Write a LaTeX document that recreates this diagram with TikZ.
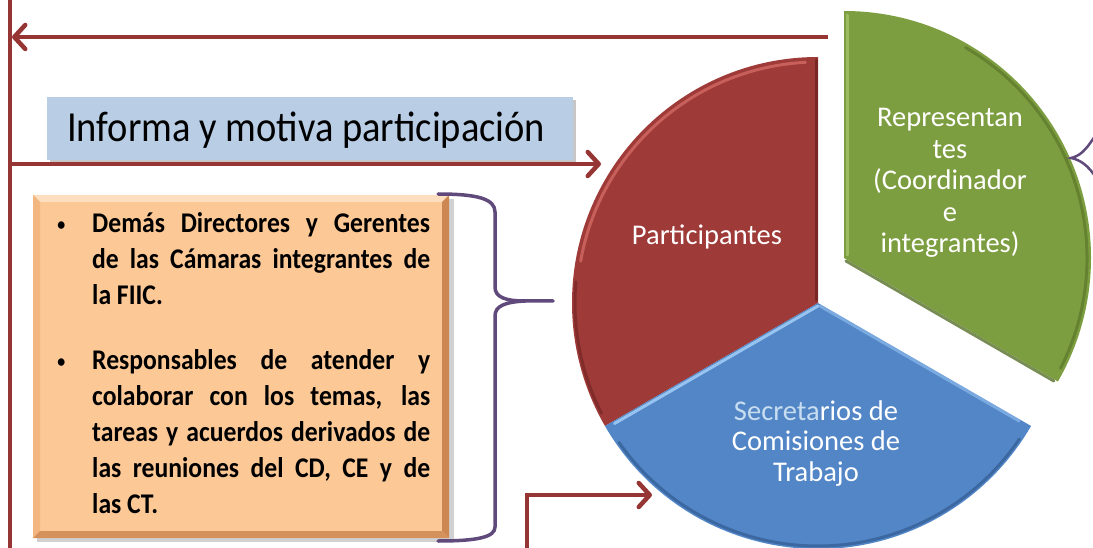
\documentclass[tikz,border=0pt]{standalone}
\usepackage{fontspec}
\usepackage{graphicx}
\setmainfont{Carlito}
\newfontfamily\condfont{Carlito}[FakeStretch=0.9]
\usetikzlibrary{arrows.meta}
\definecolor{arrowred}{RGB}{150,54,52}
\definecolor{pieRed}{RGB}{158,58,56}
\definecolor{pieRedDark}{RGB}{110,36,34}
\definecolor{pieRedLight}{RGB}{210,105,100}
\definecolor{pieGreen}{RGB}{125,158,64}
\definecolor{pieGreenDark}{RGB}{85,112,40}
\definecolor{pieGreenLight}{RGB}{165,195,105}
\definecolor{pieBlue}{RGB}{82,134,198}
\definecolor{pieBlueDark}{RGB}{52,92,148}
\definecolor{pieBlueLight}{RGB}{150,195,240}
\definecolor{titleBlue}{RGB}{185,205,229}
\definecolor{boxOrange}{RGB}{251,200,150}
\definecolor{boxOrangeMid}{RGB}{244,182,128}
\definecolor{boxOrangeDark}{RGB}{205,135,82}
\definecolor{boxOrangeLight}{RGB}{253,222,190}
\definecolor{bracePurple}{RGB}{96,74,123}
\definecolor{fadeText}{RGB}{200,222,240}
\newcommand{\smallbul}{\llap{\raisebox{0.15ex}{\scalebox{0.62}{\textbullet}}\hspace{27pt}}}
\begin{document}
\begin{tikzpicture}[x=1pt,y=-1pt,
  flow/.style={draw=arrowred,line width=4.5pt},
  flowarrow/.style={flow,-{Straight Barb[length=11pt,width=24pt,round]}},
  bracestyle/.style={draw=bracePurple,line width=3.5pt,line cap=round},
  pietext/.style={text=white,inner sep=0pt,font=\fontsize{28.5}{31.5}\selectfont},
  rim/.style={line width=3pt,line cap=round}]
\useasboundingbox (0,0) rectangle (1093,548);
\clip (0,0) rectangle (1093,548);

% ---------- pie ----------
% red slice
\fill[pieRed] (818,303) -- ++(-90:246) arc[start angle=-90,end angle=-210,radius=246] -- cycle;
\draw[rim,pieRedLight,opacity=.8] (818,303) ++(-93:241) arc[start angle=-93,end angle=-170,radius=241];
\draw[rim,pieRedDark,opacity=.6] (818,303) ++(-175:243) arc[start angle=-175,end angle=-207,radius=243];
\draw[rim,pieRedDark,opacity=.8] (816,300) -- (816,60);
% blue slice
\fill[pieBlue] (818,303) -- ++(-210:246) arc[start angle=-210,end angle=-330,radius=246] -- cycle;
\draw[rim,pieBlueLight] (818,306) -- ++(-210:235);
\draw[rim,pieBlueDark,opacity=.7] (818,303) ++(-215:243) arc[start angle=-215,end angle=-326,radius=243];
\draw[rim,pieBlueLight,opacity=.6] (820,306) -- ++(-330:230);
% green slice
\fill[pieGreen] (844,258) -- ++(-90:247) arc[start angle=-90,end angle=30,radius=247] -- cycle;
\draw[rim,pieGreenLight,opacity=.8] (847,255) -- (847,15);
\draw[rim,pieGreenDark,opacity=.8] (846,261) -- ++(30:240);
\draw[rim,pieGreenDark,opacity=.6] (844,258) ++(-60:243) arc[start angle=-60,end angle=27,radius=243];

\node[pietext,anchor=base] (partTxt) at (707,245) {Participantes};
\node[pietext,anchor=base] (repTxt) at (950,127)
  {\parbox[t]{190pt}{\centering Representan\\tes\\(Coordinador\\e\\integrantes)}};
\node[pietext,anchor=base,font=\fontsize{28.5}{30.5}\selectfont] (secTxt) at (816,420)
  {\parbox[t]{220pt}{\centering\leavevmode{\color{fadeText}Secreta}rios de\\Comisiones de\\Trabajo}};

% ---------- title box ----------
\fill[black!22] (50,100) rectangle (576,162);
\fill[titleBlue] (47,97) rectangle (573,160);
\node[anchor=base west,inner sep=0pt,font=\condfont\fontsize{42.8}{46}\selectfont] (title) at (67,142)
  {Informa y motiva participación};

% ---------- orange box ----------
\fill[black!30,opacity=.6] (37,199) rectangle (454,542);
\fill[boxOrange] (33,195) rectangle (449,538);
\fill[boxOrangeLight] (33,195) -- (449,195) -- (442,202) -- (40,202) -- cycle;
\fill[boxOrangeMid] (33,195) -- (40,202) -- (40,531) -- (33,538) -- cycle;
\fill[boxOrangeDark] (449,195) -- (449,538) -- (442,531) -- (442,202) -- cycle;
\fill[boxOrangeDark!85!boxOrange] (33,538) -- (449,538) -- (442,531) -- (40,531) -- cycle;
\node[anchor=base west,inner sep=0pt,font=\condfont\fontsize{28.5}{36}\selectfont\bfseries] (list) at (92,233)
  {\parbox[t]{338pt}{\tolerance=10000\hbadness=10000\hyphenpenalty=10000\parskip=29pt
   \noindent\smallbul Demás Directores y Gerentes\linebreak
   de las Cámaras integrantes de\linebreak la FIIC.\par
   \noindent\smallbul Responsables de atender y\linebreak
   colaborar con los temas, las\linebreak tareas y acuerdos derivados de\linebreak
   las reuniones del CD, CE y de\linebreak las CT.}};

% ---------- brace ----------
\coordinate (braceTop) at (438,194);
\coordinate (braceTip) at (553,301);
\coordinate (braceBot) at (438,541);
\draw[bracestyle] (braceTop) .. controls (478,194) and (495,199) .. (495,212) -- (495,287)
  .. controls (495,297) and (505,301) .. (525,301) -- (braceTip);
\draw[bracestyle] (525,301) .. controls (505,302) and (495,306) .. (495,316) -- (495,527)
  .. controls (495,537) and (478,541) .. (braceBot);
% brace fragment at the right edge
\coordinate (rbTip) at (1071,158);
\draw[bracePurple,line width=2.5pt] (1095,136) .. controls (1086,150) and (1080,156) .. (rbTip)
  .. controls (1081,160) and (1088,166) .. (1095,176);

% ---------- arrows ----------
\coordinate (leftTop) at (10,0);
\coordinate (leftBot) at (10,548);
\draw[flow] (leftTop) -- (leftBot);
\coordinate (topFrom) at (828,37);
\coordinate (topTo) at (12,37);
\draw[flowarrow] (topFrom) -- (topTo);
\coordinate (midFrom) at (10,164);
\coordinate (midTo) at (601,164);
\draw[flowarrow] (midFrom) -- (midTo);
\coordinate (botFrom) at (527,550);
\coordinate (botTo) at (652,495);
\draw[flowarrow] (botFrom) |- (botTo);
\end{tikzpicture}
\end{document}
